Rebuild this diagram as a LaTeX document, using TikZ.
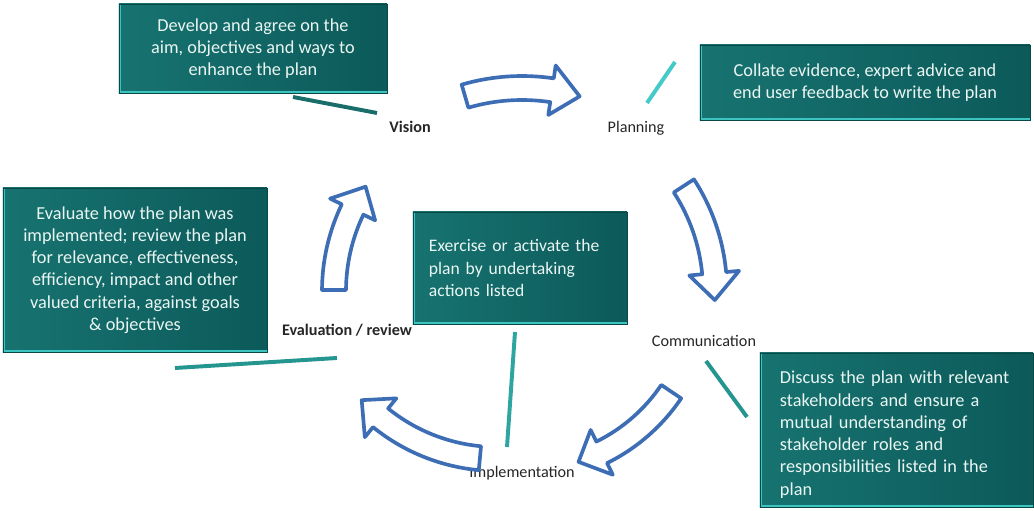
\documentclass[tikz,border=0pt]{standalone}
\usepackage{fontspec}
\setmainfont{Carlito}
\definecolor{boxlight}{HTML}{177370}
\definecolor{boxdark}{HTML}{0C5A5A}
\definecolor{boxglow}{HTML}{3CC4C0}
\definecolor{boxedge}{HTML}{0A4848}
\definecolor{boxtext}{HTML}{EAF6F3}
\definecolor{arrowblue}{HTML}{3D6DB5}
\definecolor{linkdark}{HTML}{1A6E69}
\definecolor{linklight}{HTML}{45CACA}
\definecolor{linkmid}{HTML}{25958F}

% curved block arrow: centre x, centre y, radius, start angle, tip angle
\newcommand{\cyclearrow}[5]{%
  \begin{scope}[shift={(#1,#2)}]
    \draw[cyclearrow] ({#4}:{#3-12}) arc[start angle={#4}, end angle={#5+8}, radius={#3-12}]
      -- ({#5+8}:{#3-25}) -- ({#5}:{#3}) -- ({#5+8}:{#3+25}) -- ({#5+8}:{#3+12})
      arc[start angle={#5+8}, end angle={#4}, radius={#3+12}] -- cycle;
  \end{scope}%
}

\tikzset{
  infobox/.style={rectangle, inner sep=0pt, left color=boxlight, right color=boxdark,
    draw=boxedge, line width=0.6pt,
    text=boxtext, font=\fontsize{13}{15.8}\selectfont,
    path picture={\draw[boxglow, line width=3pt]
      (path picture bounding box.north west) -- (path picture bounding box.south west)
      -- (path picture bounding box.south east);}},
  steplabel/.style={font=\fontsize{11.5}{13}\selectfont, text=black!85},
  cyclearrow/.style={draw=arrowblue, fill=white, line width=2.6pt, line join=round},
  link/.style={line width=2.8pt}
}

\begin{document}
\begin{tikzpicture}[x=0.025cm, y=0.025cm]

\fill[white] (0,0) rectangle (1034,511);
\useasboundingbox (0,0) rectangle (1034,511);

% boxes
\node[infobox, minimum width=6.7cm, minimum height=2.225cm, align=center] (visbox) at (253,462.5)
  {Develop and agree on the\\aim, objectives and ways to\\enhance the plan};
\node[infobox, minimum width=8.25cm, minimum height=1.875cm, align=center] (planbox) at (865,428.5)
  {Collate evidence, expert advice and\\end user feedback to write the plan};
\node[infobox, minimum width=6.6cm, minimum height=4.1cm, align=center] (evalbox) at (135,241)
  {Evaluate how the plan was\\implemented; review the plan\\for relevance, effectiveness,\\efficiency, impact and other\\valued criteria, against goals\\\& objectives};
\node[infobox, minimum height=2.8cm, inner xsep=0.4cm, text width=4.55cm, align=left,
  font=\fontsize{12.5}{15.8}\selectfont] (implbox) at (520,243)
  {Exercise or activate the\\plan by undertaking\\actions listed};
\node[infobox, minimum height=3.85cm, inner xsep=0.5cm, text width=5.825cm, text height=0.55cm, align=left] (commbox) at (896.5,81)
  {Discuss the plan with relevant\\stakeholders and ensure a\\mutual understanding of\\stakeholder roles and\\responsibilities listed in the\\plan};

% stage labels
\node[steplabel, font=\bfseries\fontsize{11.5}{13}\selectfont] (vision) at (410,384) {Vision};
\node[steplabel] (planning) at (636,383) {Planning};
\node[steplabel] (communication) at (704,170) {Communication};
\node[steplabel] (implementation) at (522,38) {Implementation};
\node[steplabel, font=\bfseries\fontsize{11.5}{13}\selectfont] (evaluation) at (347,181) {Evaluation / review};

% links from boxes to labels
\coordinate (visA) at (293,414);  \coordinate (visB) at (377,398);
\coordinate (planA) at (675,449); \coordinate (planB) at (647,408);
\coordinate (evalA) at (175,143); \coordinate (evalB) at (337,153);
\coordinate (implA) at (515,179); \coordinate (implB) at (507,64);
\coordinate (commA) at (706,150); \coordinate (commB) at (747,94);
\draw[link, linkdark] (visA) -- (visB);
\draw[link, linklight] (planA) -- (planB);
\draw[link, linkmid] (evalA) -- (evalB);
\draw[link, linkmid!70!linklight] (implA) -- (implB);
\draw[link, linkmid] (commA) -- (commB);

% cycle arrows
\cyclearrow{522}{220}{203}{106.3}{73.5}
\cyclearrow{522}{220}{193}{33}{-2.7}
\cyclearrow{522}{220}{180}{-34}{-71.7}
\cyclearrow{497}{237}{185}{-95.3}{-137}
\cyclearrow{522}{220}{188}{179.7}{146.3}

\end{tikzpicture}
\end{document}
